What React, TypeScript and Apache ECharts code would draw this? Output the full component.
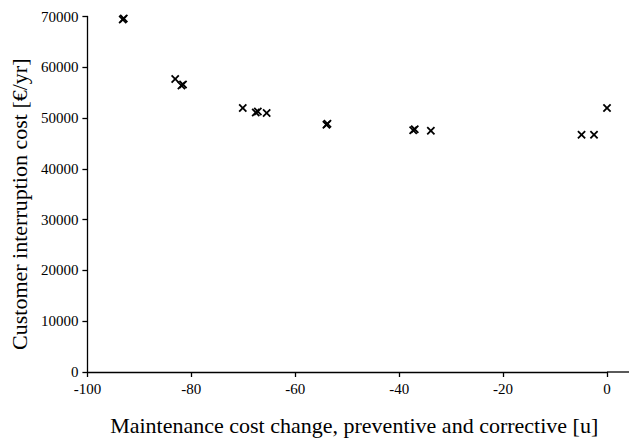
import { useEffect, useRef } from "react";
import * as echarts from "echarts";

const xValues = [-93.2, -93.0, -83.1, -81.9, -81.6, -70.1, -67.6, -67.2, -65.5, -54.0, -53.8, -37.3, -37.0, -33.9, -4.9, -2.5, 0];
const yValues = [69400, 69600, 57700, 56400, 56600, 52000, 51100, 51300, 51000, 48700, 48900, 47600, 47800, 47500, 46700, 46700, 52000];
const xTitle = "Maintenance cost change, preventive and corrective [u]";
const yTitle = "Customer interruption cost [€/yr]";

const X_SYMBOL =
  "path://M0,1.5 L1.5,0 L5,3.5 L8.5,0 L10,1.5 L6.5,5 L10,8.5 L8.5,10 L5,6.5 L1.5,10 L0,8.5 L3.5,5 Z";

export default function App() {
  const ref = useRef<HTMLDivElement>(null);
  useEffect(() => {
    if (!ref.current) return;
    const chart = echarts.init(ref.current, null, { renderer: "svg" });
    const font = "Liberation Serif";
    const axisCommon = {
      axisTick: { show: true, inside: false, length: 5, lineStyle: { color: "#000", width: 1.3 } },
      splitLine: { show: false },
      axisLabel: { color: "#000", fontFamily: font, fontSize: 15, margin: 9 },
      nameTextStyle: { color: "#000", fontFamily: font, fontSize: 22 },
    };
    chart.setOption({
      animation: false,
      backgroundColor: "#fff",
      grid: { left: 82, right: 22, top: 16.5, bottom: 68, containLabel: false },
      xAxis: {
        type: "value",
        min: -100,
        max: 0,
        interval: 20,
        ...axisCommon,
        axisLine: { show: true, onZero: false, lineStyle: { color: "#000", width: 1.3 } },
        name: xTitle,
        nameLocation: "middle",
        nameGap: 42,
        nameTextStyle: { ...axisCommon.nameTextStyle, padding: [0, 0, 0, 14] },
      },
      yAxis: {
        type: "value",
        min: 0,
        max: 70000,
        interval: 10000,
        ...axisCommon,
        axisLine: { show: true, onZero: false, lineStyle: { color: "#000", width: 1.3 } },
        axisLabel: { ...axisCommon.axisLabel, formatter: (v: number) => String(v) },
        name: yTitle,
        nameLocation: "middle",
        nameGap: 57,
        nameTextStyle: { ...axisCommon.nameTextStyle, padding: [0, 0, 0, -20] },
      },
      series: [
        {
          type: "scatter",
          symbol: X_SYMBOL,
          symbolSize: 8.5,
          itemStyle: { color: "#000", opacity: 1 },
          data: xValues.map((x, i) => [x, yValues[i]]),
        },
      ],
    });
    const p = chart.convertToPixel({ gridIndex: 0 }, [0, 0]) as number[];
    chart.setOption({
      graphic: [
        {
          type: "line",
          shape: { x1: p[0], y1: p[1], x2: 629, y2: p[1] },
          style: { stroke: "#000", lineWidth: 1.3 },
          silent: true,
        },
      ],
    });
    return () => chart.dispose();
  }, []);
  return (
    <div
      ref={ref}
      style={{ position: "fixed", left: 0, top: 0, width: 629, height: 441 }}
    />
  );
}
